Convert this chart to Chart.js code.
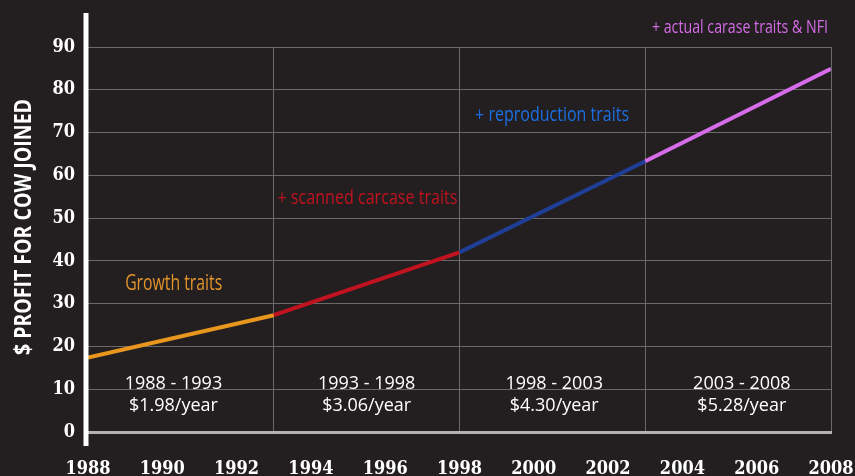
<!DOCTYPE html>
<html>
<head>
<meta charset="utf-8">
<script src="https://cdn.jsdelivr.net/npm/chart.js@4.4.1/dist/chart.umd.min.js"></script>
<style>
  html, body { margin: 0; padding: 0; background: #231f20; }
  #wrap { width: 855px; height: 476px; position: relative; }
</style>
</head>
<body>
<div id="wrap"><canvas id="chart"></canvas></div>
<script>
const years = [1988, 1993, 1998, 2003, 2008];
const profit = [17.4, 27.3, 42.0, 63.3, 84.9];
const segmentColors = ['#e8961e', '#c1121f', '#1f3e96', '#d66ce9'];

const gridYears = [1993, 1998, 2003, 2008];
const periodLabels = ['1988 - 1993', '1993 - 1998', '1998 - 2003', '2003 - 2008'];
const rateLabels = ['$1.98/year', '$3.06/year', '$4.30/year', '$5.28/year'];
const traitLabels = ['Growth traits', '+ scanned carcase traits', '+ reproduction traits', '+ actual carase traits & NFI'];
const traitColors = ['#e3952a', '#c1121f', '#1c6fe3', '#d46be7'];
const yTitle = '$ PROFIT FOR COW JOINED';

const GRID = '#6b6869';
const ZERO = '#b3b1b1';
const SANS = '"Open Sans", "DejaVu Sans", sans-serif';
const SERIF = '"DejaVu Serif Condensed", "DejaVu Serif", serif';

// anchor spots for the text, in data units
const periodX = [1990.3, 1995.5, 2000.55, 2005.6];
const traitSpots = [
  { x: 1989.0, y: 33.3, w: 97, size: 21 },
  { x: 1993.1, y: 53.2, w: 180, size: 20 },
  { x: 1998.42, y: 72.6, w: 154, size: 20 },
  { x: 2003.18, y: 93.2, w: 176, size: 19 },
];

function fitText(ctx, text, x, y, width, align) {
  const w = ctx.measureText(text).width;
  const sx = w > width ? width / w : 1;
  ctx.save();
  ctx.translate(x, y);
  ctx.scale(sx, 1);
  ctx.textAlign = align || 'left';
  ctx.fillText(text, 0, 0);
  ctx.restore();
}

const decor = {
  id: 'decor',
  afterDatasetsDraw(chart) {
    const { ctx, scales: { x, y } } = chart;
    ctx.save();
    // white y axis bar
    ctx.strokeStyle = '#ffffff';
    ctx.lineWidth = 5;
    ctx.beginPath();
    ctx.moveTo(86, 13);
    ctx.lineTo(86, 446);
    ctx.stroke();

    ctx.fillStyle = '#ffffff';
    ctx.font = '18px ' + SANS;
    ctx.textBaseline = 'alphabetic';
    periodLabels.forEach((t, i) => {
      const px = x.getPixelForValue(periodX[i]);
      fitText(ctx, t, px, y.getPixelForValue(10.05), 100, 'center');
      fitText(ctx, rateLabels[i], px, y.getPixelForValue(4.9), 90, 'center');
    });

    traitLabels.forEach((t, i) => {
      const s = traitSpots[i];
      ctx.fillStyle = traitColors[i];
      ctx.font = s.size + 'px ' + SANS;
      fitText(ctx, t, x.getPixelForValue(s.x), y.getPixelForValue(s.y), s.w, 'left');
    });

    // y axis title
    ctx.fillStyle = '#ffffff';
    ctx.font = 'bold 24px ' + SANS;
    ctx.translate(31, 227);
    ctx.rotate(-Math.PI / 2);
    fitText(ctx, yTitle, 0, 0, 256, 'center');
    ctx.restore();
  },
};

const noSidePad = (s, h) => {
  s.height = h;
  s.paddingLeft = 0;
  s.paddingRight = 0;
};

new Chart(document.getElementById('chart'), {
  type: 'line',
  data: {
    datasets: [{
      data: years.map((yr, i) => ({ x: yr, y: profit[i] })),
      borderColor: segmentColors[0],
      segment: { borderColor: (c) => segmentColors[c.p0DataIndex] },
      borderWidth: 4,
      pointRadius: 0,
      tension: 0,
      fill: false,
    }],
  },
  plugins: [decor],
  options: {
    responsive: true,
    maintainAspectRatio: false,
    animation: false,
    layout: { padding: { top: 47, right: 24, left: 0, bottom: 0 } },
    plugins: { legend: { display: false }, tooltip: { enabled: false } },
    scales: {
      x: {
        type: 'linear',
        min: 1988,
        max: 2008,
        grid: { display: false },
        border: { display: true, color: ZERO, width: 3 },
        ticks: {
          stepSize: 2,
          color: '#ffffff',
          padding: 19,
          font: { family: SERIF, size: 18, weight: 'bold' },
          maxRotation: 0,
          autoSkip: false,
          callback: (v) => String(v),
        },
        afterFit: (s) => noSidePad(s, 44),
      },
      x2: {
        type: 'linear',
        position: 'bottom',
        min: 1988,
        max: 2008,
        afterBuildTicks: (s) => { s.ticks = gridYears.map((v) => ({ value: v })); },
        ticks: { display: false },
        grid: { color: GRID, lineWidth: 1, drawTicks: false },
        border: { display: false },
        afterFit: (s) => noSidePad(s, 0),
      },
      y: {
        min: 0,
        max: 90,
        ticks: {
          stepSize: 10,
          color: '#ffffff',
          padding: 13,
          font: { family: SERIF, size: 18, weight: 'bold' },
        },
        grid: {
          color: (c) => (c.tick && c.tick.value === 0 ? 'rgba(0,0,0,0)' : GRID),
          lineWidth: 1,
          drawTicks: false,
        },
        border: { display: false },
        afterFit: (s) => { s.width = 88; },
      },
    },
  },
});
</script>
</body>
</html>
